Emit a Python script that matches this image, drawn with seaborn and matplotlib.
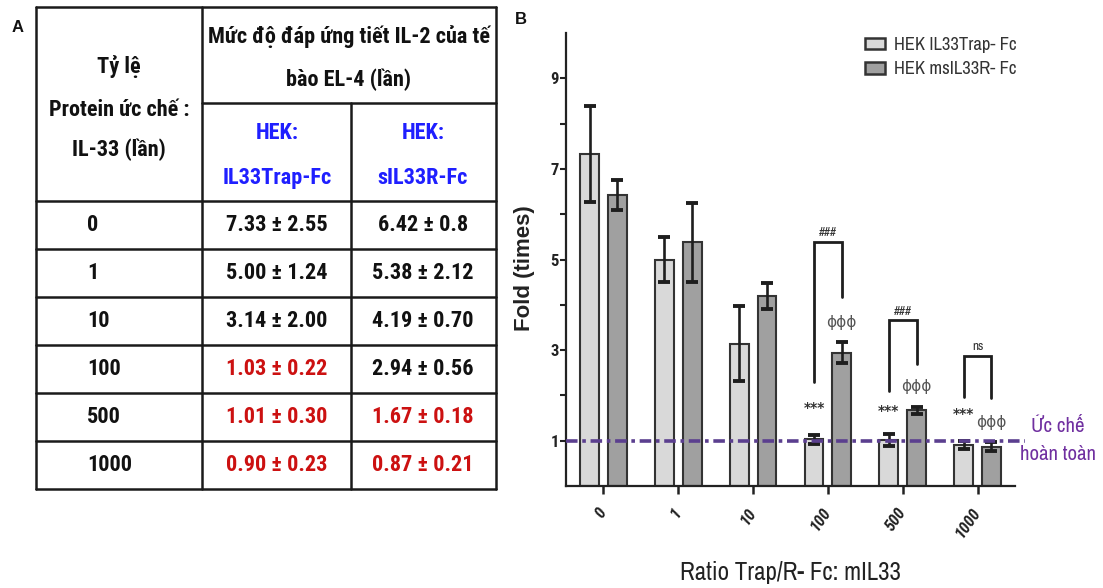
import numpy as np
import pandas as pd
import matplotlib
matplotlib.use("Agg")
import matplotlib.pyplot as plt
import seaborn as sns
import logging
logging.getLogger("matplotlib.font_manager").setLevel(logging.ERROR)

# ---------------- data ----------------
ratios = ["0", "1", "10", "100", "500", "1000"]
series = ["HEK IL33Trap- Fc", "HEK msIL33R- Fc"]
trap_mean = [7.33, 5.00, 3.14, 1.03, 1.01, 0.90]
msr_mean = [6.42, 5.38, 4.19, 2.94, 1.67, 0.87]
trap_sd_txt = ["2.55", "1.24", "2.00", "0.22", "0.30", "0.23"]
msr_sd_txt = ["0.8", "2.12", "0.70", "0.56", "0.18", "0.21"]
trap_red = [False, False, False, True, True, True]
msr_red = [False, False, False, False, True, True]
trap_err = [1.05, 0.50, 0.83, 0.10, 0.13, 0.09]
msr_err = [0.33, 0.87, 0.29, 0.23, 0.07, 0.10]
yticks_major = [1, 3, 5, 7, 9]
yticks_minor = [2, 4, 6, 8]
ref_level = 1.0

sig_groups = ["100", "500", "1000"]
sig_labels = ["###", "###", "ns"]
bracket_top = [5.39, 3.66, 2.87]
bracket_left_bottom = [2.30, 2.10, 1.97]
bracket_right_bottom = [4.17, 2.70, 1.94]
star_y = [1.72, 1.66, 1.59]
phi_y = [3.60, 2.19, 1.41]

col0_header = ["Tỷ lệ", "Protein ức chế :", "IL-33 (lần)"]
top_header = ["Mức độ đáp ứng tiết IL-2 của tế", "bào EL-4 (lần)"]
sub_header = [["HEK:", "IL33Trap-Fc"], ["HEK:", "sIL33R-Fc"]]

# ---------------- style ----------------
sns.set_style("white")
NARROW = ["Roboto Condensed", "Archivo Narrow", "Liberation Sans", "DejaVu Sans"]
ARIALN = ["Archivo Narrow", "Roboto Condensed", "Liberation Sans", "DejaVu Sans"]
WIDE = ["Liberation Sans", "DejaVu Sans"]
plt.rcParams["font.family"] = ARIALN

W, H = 1103, 588
fig = plt.figure(figsize=(W / 100, H / 100), dpi=100)
fig.patch.set_facecolor("white")

# ---------------- bar chart (panel B) ----------------
ax = fig.add_axes([566 / W, (H - 486) / H, 449 / W, 453 / H])
df = pd.DataFrame({
    "ratio": ratios * 2,
    "series": [series[0]] * len(ratios) + [series[1]] * len(ratios),
    "fold": trap_mean + msr_mean,
})
light, dark = "#d9d9d9", "#a0a0a0"
sns.barplot(data=df, x="ratio", y="fold", hue="series", order=ratios,
            hue_order=series, palette=[light, dark], errorbar=None,
            width=0.74, gap=0.32, edgecolor="#333333", linewidth=1.5,
            legend=False, ax=ax)
bar_conts = list(ax.containers)[:2]

centers = []
for cont, errs in zip(bar_conts, [trap_err, msr_err]):
    xs = [b.get_x() + b.get_width() / 2 for b in cont]
    ys = [b.get_height() for b in cont]
    centers.append(xs)
    ax.errorbar(xs, ys, yerr=errs, fmt="none", ecolor="#1e1e1e",
                elinewidth=1.9, capsize=4.0, capthick=2.8, zorder=4)

ax.set_xlim(-0.5, 5.5)
ax.set_ylim(0, 10)
ax.set_yticks(yticks_major)
ax.set_yticks(yticks_minor, minor=True)
ax.set_yticklabels([str(v) for v in yticks_major], fontsize=12,
                   fontweight="bold", color="#222", family=NARROW)
ax.set_xticks(range(len(ratios)))
ax.set_xticklabels(ratios, rotation=55, ha="right", va="center",
                   rotation_mode="anchor", fontsize=12, fontstyle="italic",
                   fontweight="bold", color="#222", family=NARROW)
ax.tick_params(axis="y", which="both", direction="out", length=4, width=1.5,
               color="#222", left=True, pad=1)
ax.tick_params(axis="x", direction="out", length=6, width=1.8, color="#222",
               bottom=True, pad=11)
for s in ["top", "right"]:
    ax.spines[s].set_visible(False)
for s in ["left", "bottom"]:
    ax.spines[s].set_color("#222")
    ax.spines[s].set_linewidth(1.6)

ax.set_ylabel("Fold (times)", fontsize=16, fontweight="bold",
              family=WIDE, color="#222")
ax.yaxis.set_label_coords(-0.069, 0.48)
ax.set_xlabel("Ratio Trap/R- Fc: mIL33", fontsize=18, color="#222")
ax.xaxis.label.set_va("center")
ax.xaxis.set_label_coords(0.5, -0.192)

# reference line (complete inhibition)
ax.plot([-0.5, 5.63], [ref_level, ref_level], color="#5b3f8f", lw=2.6,
        dashes=(3.2, 1.3, 1.0, 1.3), clip_on=False, zorder=5)

# significance annotations
for k, g in enumerate(sig_groups):
    i = ratios.index(g)
    xl, xr = centers[0][i], centers[1][i]
    ax.plot([xl, xl, xr, xr],
            [bracket_left_bottom[k], bracket_top[k], bracket_top[k],
             bracket_right_bottom[k]],
            color="#1e1e1e", lw=2.0, solid_joinstyle="miter", zorder=4)
    ax.text((xl + xr) / 2, bracket_top[k] + 0.08, sig_labels[k],
            ha="center", va="bottom", fontsize=9.5, color="#333")
    ax.text(xl, star_y[k], "***", ha="center", va="center", fontsize=10,
            fontweight="bold", color="#333", family=["DejaVu Sans"])
    ax.text(xr, phi_y[k], "ϕϕϕ", ha="center", va="center", fontsize=11,
            color="#555", family=["DejaVu Sans"])

leg = ax.legend(bar_conts, series, loc="upper left",
                bbox_to_anchor=(865 / W, 1 - 37 / H),
                bbox_transform=fig.transFigure, frameon=False,
                fontsize=13.4, handlelength=1.1, handleheight=0.6,
                handletextpad=0.45, labelspacing=0.45, borderpad=0,
                borderaxespad=0)
for t in leg.get_texts():
    t.set_color("#333")
for h in leg.legend_handles:
    h.set_linewidth(1.8)
    h.set_edgecolor("#333")

# ---------------- overlay: table (panel A) + text ----------------
tab = fig.add_axes([0, 0, 1, 1], zorder=-1)
tab.set_xlim(0, W)
tab.set_ylim(H, 0)
tab.axis("off")

xL, xC1, xC2, xR = 36, 202, 351, 496
yT, yMid, yHB = 7, 103, 201
row_h = 48
n = len(ratios)
yB = yHB + n * row_h
lc, lw = "#1a1a1a", 1.8
tab.plot([xL, xR], [yT, yT], color=lc, lw=lw)
tab.plot([xC1, xR], [yMid, yMid], color=lc, lw=lw)
for r in range(n + 1):
    yy = yHB + r * row_h
    tab.plot([xL, xR], [yy, yy], color=lc, lw=lw)
tab.plot([xL, xL], [yT, yB], color=lc, lw=lw)
tab.plot([xC1, xC1], [yT, yB], color=lc, lw=lw)
tab.plot([xC2, xC2], [yMid, yB], color=lc, lw=lw)
tab.plot([xR, xR], [yT, yB], color=lc, lw=lw)

TF = dict(fontsize=16, fontweight="bold", family=NARROW)
for txt, yy in zip(col0_header, [67, 110, 150]):
    tab.text(119, yy, txt, ha="center", va="center", color="#111", **TF)
for txt, yy in zip(top_header, [37, 80]):
    tab.text(349, yy, txt, ha="center", va="center", color="#111", **TF)
blue = "#1f1fff"
for cx, lines in zip([277, 423], sub_header):
    for txt, yy in zip(lines, [133, 178]):
        tab.text(cx, yy, txt, ha="center", va="center", color=blue, **TF)

red = "#cc1111"
for r in range(n):
    yy = yHB + r * row_h + row_h / 2
    tab.text(87, yy, ratios[r], ha="left", va="center", color="#111", **TF)
    tab.text(277, yy, f"{trap_mean[r]:.2f} ± {trap_sd_txt[r]}", ha="center",
             va="center", color=red if trap_red[r] else "#111", **TF)
    tab.text(423, yy, f"{msr_mean[r]:.2f} ± {msr_sd_txt[r]}", ha="center",
             va="center", color=red if msr_red[r] else "#111", **TF)

tab.text(18, 27, "A", ha="center", va="center", fontsize=12,
         fontweight="bold", family=WIDE, color="#111")
tab.text(521, 19, "B", ha="center", va="center", fontsize=12,
         fontweight="bold", family=WIDE, color="#111")

purple = "#7030a0"
tab.text(1058, 427, "Ức chế", ha="center", va="center", fontsize=15,
         color=purple)
tab.text(1058, 455, "hoàn toàn", ha="center", va="center", fontsize=15,
         color=purple)

fig.savefig("out.png", dpi=100, facecolor="white")
